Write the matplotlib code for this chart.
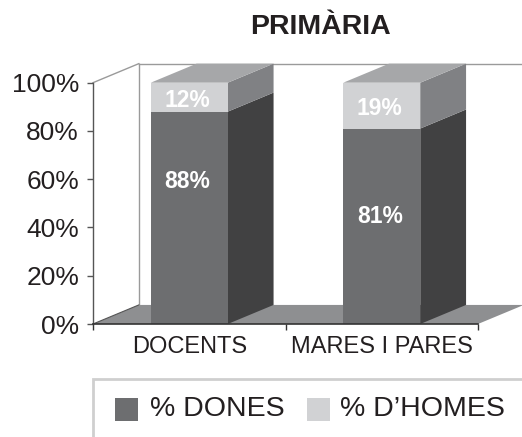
import matplotlib
matplotlib.use("Agg")
import matplotlib.pyplot as plt
from matplotlib import font_manager as fm
from matplotlib.patches import Polygon, Rectangle

# Data
categories = ["DOCENTS", "MARES I PARES"]
pct_dones = [88, 81]
pct_homes = [12, 19]
series_names = ["% DONES", "% D\u2019HOMES"]
ytick_values = [0, 20, 40, 60, 80, 100]
ytick_labels = ["0%", "20%", "40%", "60%", "80%", "100%"]

# Vertical anchors for the value labels (in % units)
label_y_dones = [59, 44.5]
label_y_homes = [92.7, 89.4]

# Use the regular-width Liberation Sans faces (skip the Narrow variants)
fm.fontManager.ttflist = [f for f in fm.fontManager.ttflist
                          if "narrow" not in f.fname.lower()]
if hasattr(fm, "_findfont_cached"):
    fm._findfont_cached.cache_clear()

FONT = "Liberation Sans"
plt.rcParams["font.family"] = [FONT, "DejaVu Sans"]
col_dones_front = "#6d6e70"
col_dones_side = "#414142"
col_homes_front = "#d1d2d4"
col_homes_side = "#808184"
col_top = "#a6a7a9"
col_floor = "#8e8f91"
col_wall_line = "#9a9a9a"
col_text = "#231f20"

W, H = 522, 437
fig = plt.figure(figsize=(W / 100, H / 100), dpi=100)


def fx(x):
    return x / W


def fy(y):
    return 1 - y / H


# Front plane of the plot: x 93..478 px, y 324..82.7 px
ax = fig.add_axes([fx(93), fy(324), (478 - 93) / W, (324 - 82.7) / H])
ax.set_xlim(0, 2)
ax.set_ylim(0, 100)
ax.patch.set_visible(False)

# Depth offset of the pseudo-3D box (data units)
ddx = 0.238
ddy = 7.9
bar_w = 0.4
xpos = [i + 0.5 for i in range(len(categories))]

# Floor
ax.add_patch(Polygon([(0, 0), (2, 0), (2 + ddx, ddy), (ddx, ddy)],
                     closed=True, facecolor=col_floor, edgecolor="none",
                     clip_on=False, zorder=1))

# Back and side wall outlines
ax.plot([ddx, 2 + ddx], [100 + ddy, 100 + ddy], color=col_wall_line, lw=1,
        clip_on=False, zorder=1)
ax.plot([ddx, ddx], [ddy, 100 + ddy], color=col_wall_line, lw=1,
        clip_on=False, zorder=1)
ax.plot([0, ddx], [100, 100 + ddy], color=col_wall_line, lw=1,
        clip_on=False, zorder=1)
ax.plot([0, ddx], [0, ddy], color="#555555", lw=0.8,
        clip_on=False, zorder=1)

# Front faces of the stacked bars
b1 = ax.bar(xpos, pct_dones, width=bar_w, color=col_dones_front,
            edgecolor="none", zorder=3, label=series_names[0])
b2 = ax.bar(xpos, pct_homes, width=bar_w, bottom=pct_dones,
            color=col_homes_front, edgecolor="none", zorder=3,
            label=series_names[1])

# Side and top faces
for x, d, h in zip(xpos, pct_dones, pct_homes):
    xr = x + bar_w / 2
    xl = x - bar_w / 2
    top = d + h
    ax.add_patch(Polygon([(xr, 0), (xr + ddx, ddy), (xr + ddx, d + ddy), (xr, d)],
                         closed=True, facecolor=col_dones_side,
                         edgecolor="none", zorder=2, clip_on=False))
    ax.add_patch(Polygon([(xr, d), (xr + ddx, d + ddy), (xr + ddx, top + ddy), (xr, top)],
                         closed=True, facecolor=col_homes_side,
                         edgecolor="none", zorder=2, clip_on=False))
    ax.add_patch(Polygon([(xl, top), (xr, top), (xr + ddx, top + ddy), (xl + ddx, top + ddy)],
                         closed=True, facecolor=col_top,
                         edgecolor="none", zorder=2, clip_on=False))

# Value labels
for x, d, h, yd, yh in zip(xpos, pct_dones, pct_homes, label_y_dones, label_y_homes):
    ax.text(x - 0.01, yd, f"{d}%", ha="center", va="center", color="white",
            fontsize=16.5, fontweight="bold", zorder=5)
    ax.text(x - 0.01, yh, f"{h}%", ha="center", va="center", color="white",
            fontsize=16.5, fontweight="bold", zorder=5)

# Axes styling
for s in ["top", "right"]:
    ax.spines[s].set_visible(False)
ax.spines["left"].set_color("#555555")
ax.spines["left"].set_linewidth(1.0)
ax.spines["bottom"].set_color("#333333")
ax.spines["bottom"].set_linewidth(1.2)
ax.spines["left"].set_zorder(4)
ax.spines["bottom"].set_zorder(4)

ax.set_yticks(ytick_values, ytick_labels)
ax.tick_params(axis="y", direction="out", length=4, width=1, color="#555555",
               pad=6, labelsize=19, labelcolor=col_text)
ax.set_xticks([0, 1, 2], ["", "", ""])
ax.tick_params(axis="x", which="major", direction="out", length=4, width=1,
               color="#333333")
ax.set_xticks(xpos, categories, minor=True)
ax.tick_params(axis="x", which="minor", length=0, pad=8.5, labelsize=17,
               labelcolor=col_text)

# Title
fig.text(fx(320), fy(26.5), "PRIM\u00c0RIA", ha="center", va="center",
         fontsize=20.5, fontweight="bold", color=col_text)

# Legend box and entries
fig.patches.append(Rectangle((fx(93), fy(460)), (560 - 93) / W, (460 - 379) / H,
                             transform=fig.transFigure, facecolor="white",
                             edgecolor="#cfcfcf", linewidth=2, clip_on=False))
legend_colors = [col_dones_front, col_homes_front]
sq_x = [115, 307]
txt_x = [150, 340]
for name, c, sx, tx in zip(series_names, legend_colors, sq_x, txt_x):
    fig.patches.append(Rectangle((fx(sx), fy(421)), 23 / W, 23 / H,
                                 transform=fig.transFigure, facecolor=c,
                                 edgecolor="none"))
    fig.text(fx(tx), fy(409.5), name, ha="left", va="center", fontsize=20.5,
             color=col_text)

fig.savefig("out.png", dpi=100)
